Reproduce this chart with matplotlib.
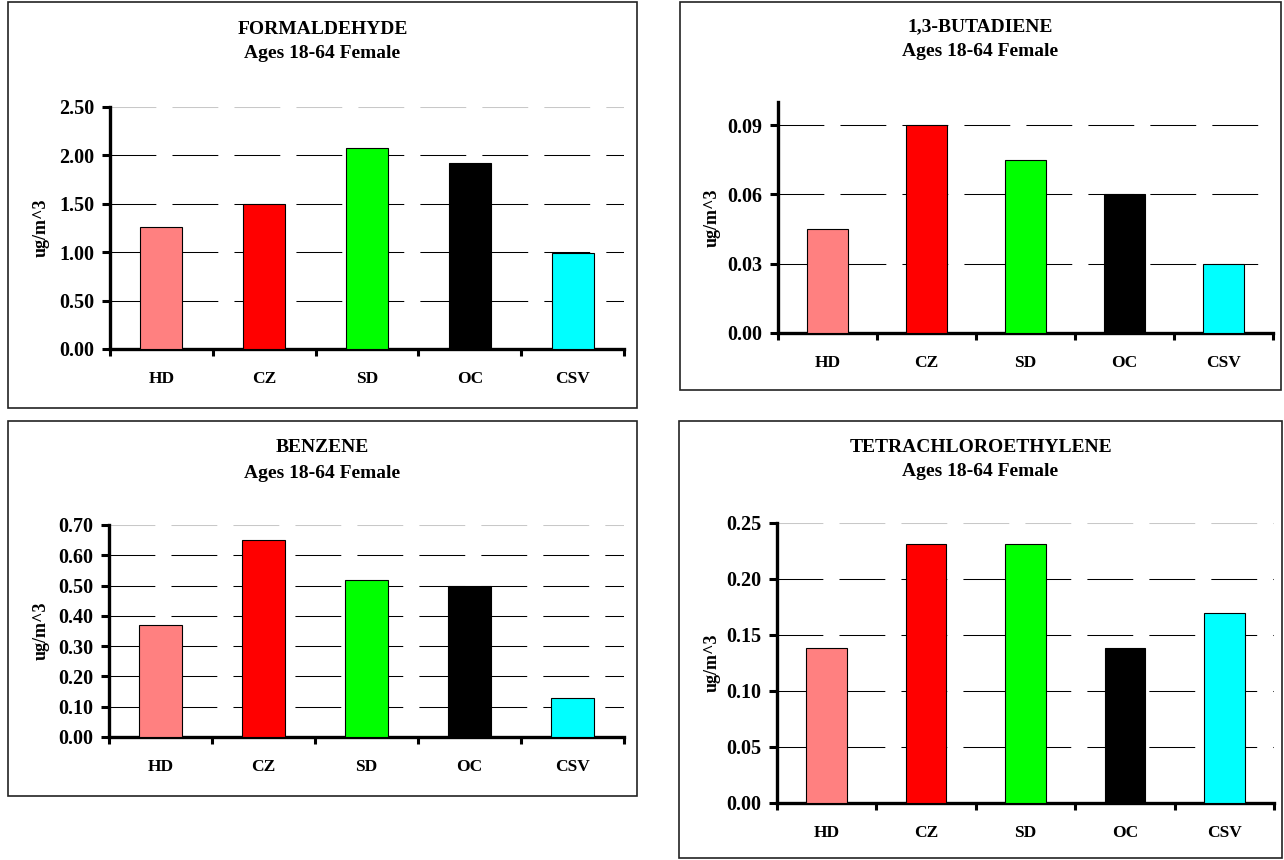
import matplotlib
matplotlib.use('Agg')
import matplotlib.pyplot as plt
from matplotlib.patches import Rectangle

W, H = 1284, 860

# data
sites = ['HD', 'CZ', 'SD', 'OC', 'CSV']
bar_colors = ['#FF8080', '#FF0000', '#00FF00', '#000000', '#00FFFF']
subtitle = 'Ages 18-64 Female'

formaldehyde = [1.26, 1.50, 2.08, 1.92, 0.99]
butadiene = [0.045, 0.090, 0.075, 0.060, 0.030]
benzene = [0.37, 0.65, 0.52, 0.50, 0.13]
tetrachloro = [0.138, 0.231, 0.231, 0.138, 0.170]

form_ticks = [0.0, 0.5, 1.0, 1.5, 2.0, 2.5]
buta_ticks = [0.0, 0.03, 0.06, 0.09]
benz_ticks = [0.0, 0.1, 0.2, 0.3, 0.4, 0.5, 0.6, 0.7]
tetra_ticks = [0.0, 0.05, 0.10, 0.15, 0.20, 0.25]

plt.rcParams['font.family'] = ['Liberation Serif', 'DejaVu Serif']
plt.rcParams['font.weight'] = 'bold'


def px(x0, y0, x1, y1):
    # pixel box (top-left origin) -> figure fraction rect
    return [x0 / W, 1 - y1 / H, (x1 - x0) / W, (y1 - y0) / H]


def draw_panel(fig, frame, axbox, title, values, yticks, ytop, fmt, ylab_x, title_y):
    fx0, fy0, fx1, fy1 = frame
    fig.patches.append(Rectangle((fx0 / W, 1 - fy1 / H), (fx1 - fx0) / W, (fy1 - fy0) / H,
                                 transform=fig.transFigure, fill=False,
                                 edgecolor='#222222', lw=1.2))
    ax = fig.add_axes(px(*axbox))
    xs = list(range(len(values)))
    ax.bar(xs, values, width=0.41, color=bar_colors, edgecolor='black',
           linewidth=0.8, zorder=3)
    ax.set_xlim(-0.5, len(values) - 0.5)
    ax.set_ylim(0, ytop)

    for t in yticks[1:]:
        c = '#c8c8c8' if abs(t - ytop) < 1e-9 else 'black'
        ax.axhline(t, color=c, lw=0.75, ls=(0, (44, 15.5)), zorder=1)

    ax.set_yticks(yticks)
    ax.set_yticklabels([fmt.format(t) for t in yticks])
    ax.set_xticks([i - 0.5 for i in range(len(values) + 1)])
    ax.set_xticklabels([])
    ax.set_xticks(xs, minor=True)
    ax.set_xticklabels(sites, minor=True)
    ax.tick_params(axis='y', length=6, width=2.2, pad=5, labelsize=14.5)
    ax.tick_params(axis='x', which='major', length=5, width=2.2)
    ax.tick_params(axis='x', which='minor', length=0, pad=16, labelsize=12.5)

    for s in ['top', 'right']:
        ax.spines[s].set_visible(False)
    for s in ['left', 'bottom']:
        ax.spines[s].set_linewidth(2.4)

    cx = (fx0 + fx1) / 2 / W
    fig.text(cx, 1 - title_y / H, title, ha='center', va='center',
             fontsize=14, fontweight='bold')
    fig.text(cx, 1 - (title_y + 25) / H, subtitle, ha='center', va='center',
             fontsize=14, fontweight='bold')
    cy = 1 - (axbox[1] + axbox[3]) / 2 / H
    fig.text(ylab_x / W, cy, 'ug/m^3', rotation=90, ha='center', va='center',
             fontsize=13, fontweight='bold')
    return ax


fig = plt.figure(figsize=(W / 100, H / 100), dpi=100)

draw_panel(fig, (8, 2, 637, 408), (110, 107, 624, 349), 'FORMALDEHYDE',
           formaldehyde, form_ticks, 2.5, '{:.2f}', 41, 29)
draw_panel(fig, (680, 2, 1281, 390), (778, 102, 1273, 333), '1,3-BUTADIENE',
           butadiene, buta_ticks, 0.10, '{:.2f}', 712, 27)
draw_panel(fig, (8, 421, 637, 796), (109, 525, 624, 737), 'BENZENE',
           benzene, benz_ticks, 0.7, '{:.2f}', 41, 448)
draw_panel(fig, (679, 421, 1282, 858), (777, 523, 1274, 803), 'TETRACHLOROETHYLENE',
           tetrachloro, tetra_ticks, 0.25, '{:.2f}', 712, 447)

fig.savefig('out.png', dpi=100)
plt.close(fig)
